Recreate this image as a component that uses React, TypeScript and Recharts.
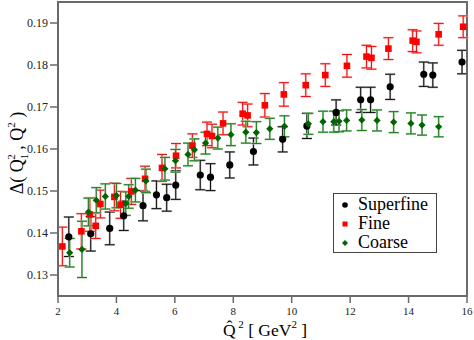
import React from 'react';
import {
  ScatterChart, Scatter, XAxis, YAxis, ErrorBar, ReferenceArea, Label,
} from 'recharts';

const xTicks = [2, 4, 6, 8, 10, 12, 14, 16];
const yTicks = [0.13, 0.14, 0.15, 0.16, 0.17, 0.18, 0.19];

const superfineX = [2.37, 3.12, 3.77, 4.25, 4.91, 5.37, 5.72, 6.03, 6.87, 7.22, 7.88, 8.69, 9.69, 10.52, 11.52, 12.36, 12.70, 13.37, 14.52, 14.83, 15.83];
const superfineY = [0.1391, 0.1398, 0.1411, 0.1441, 0.1465, 0.1491, 0.1484, 0.1514, 0.1538, 0.1533, 0.1562, 0.1594, 0.1623, 0.1655, 0.1687, 0.1717, 0.1717, 0.1748, 0.1778, 0.1776, 0.1807];
const superfineErr = [0.0047, 0.0041, 0.0039, 0.0035, 0.0036, 0.0033, 0.0032, 0.0034, 0.0035, 0.0032, 0.0031, 0.0032, 0.0030, 0.0030, 0.0030, 0.0030, 0.0030, 0.0030, 0.0029, 0.0029, 0.0028];

const fineX = [2.15, 2.80, 3.09, 3.29, 3.45, 3.93, 4.14, 4.51, 4.98, 5.56, 6.04, 6.60, 7.10, 7.27, 7.65, 8.32, 8.49, 9.08, 9.73, 10.48, 11.15, 11.89, 12.56, 12.73, 13.31, 14.14, 14.27, 15.03, 15.87];
const fineY = [0.1368, 0.1404, 0.1444, 0.1417, 0.1469, 0.1486, 0.1467, 0.1499, 0.1529, 0.1555, 0.1584, 0.1608, 0.1636, 0.1631, 0.1661, 0.1684, 0.1680, 0.1704, 0.1730, 0.1752, 0.1776, 0.1798, 0.1820, 0.1817, 0.1839, 0.1858, 0.1855, 0.1873, 0.1891];
const fineErr = [0.0046, 0.0042, 0.0040, 0.0030, 0.0033, 0.0033, 0.0032, 0.0031, 0.0030, 0.0032, 0.0029, 0.0028, 0.0028, 0.0028, 0.0027, 0.0027, 0.0027, 0.0028, 0.0028, 0.0027, 0.0027, 0.0027, 0.0027, 0.0027, 0.0026, 0.0026, 0.0026, 0.0026, 0.0026];

const coarseX = [2.40, 2.82, 3.04, 3.31, 3.62, 4.00, 4.32, 4.42, 4.65, 5.01, 5.66, 6.02, 6.45, 6.67, 7.05, 7.47, 7.92, 8.43, 8.79, 9.25, 9.75, 10.57, 11.07, 11.44, 11.62, 11.88, 12.40, 12.92, 13.49, 14.08, 14.46, 15.03];
const coarseY = [0.1353, 0.1361, 0.1450, 0.1478, 0.1487, 0.1489, 0.1470, 0.1487, 0.1502, 0.1524, 0.1553, 0.1572, 0.1587, 0.1598, 0.1614, 0.1626, 0.1634, 0.1640, 0.1639, 0.1648, 0.1654, 0.1660, 0.1665, 0.1665, 0.1666, 0.1668, 0.1669, 0.1668, 0.1664, 0.1661, 0.1657, 0.1653];
const coarseErr = [0.0034, 0.0067, 0.0033, 0.0030, 0.0030, 0.0029, 0.0028, 0.0028, 0.0028, 0.0028, 0.0027, 0.0027, 0.0027, 0.0026, 0.0026, 0.0026, 0.0026, 0.0026, 0.0026, 0.0025, 0.0025, 0.0025, 0.0025, 0.0025, 0.0025, 0.0025, 0.0025, 0.0025, 0.0025, 0.0025, 0.0024, 0.0024];

const build = (xs: number[], ys: number[], es: number[]) =>
  xs.map((x, i) => ({ x, y: ys[i], err: es[i] }));

const superfineData = build(superfineX, superfineY, superfineErr);
const fineData = build(fineX, fineY, fineErr);
const coarseData = build(coarseX, coarseY, coarseErr);

const SERIF = 'Liberation Serif, Times New Roman, DejaVu Serif, serif';
const AXIS = '#6a6a6a';

const CircleShape = (p: any) => <circle cx={p.cx} cy={p.cy} r={3.6} fill="#000" />;
const SquareShape = (p: any) => <rect x={p.cx - 3.3} y={p.cy - 3.3} width={6.6} height={6.6} fill="#ff0000" />;
const DiamondShape = (p: any) => (
  <path d={`M${p.cx},${p.cy - 3.6}L${p.cx + 3.6},${p.cy}L${p.cx},${p.cy + 3.6}L${p.cx - 3.6},${p.cy}Z`} fill="#006400" />
);

const legendItems = [
  { name: 'Superfine', kind: 'circle', color: '#000' },
  { name: 'Fine', kind: 'square', color: '#ff0000' },
  { name: 'Coarse', kind: 'diamond', color: '#006400' },
];

const LegendBox = () => (
  <div style={{ position: 'absolute', left: 333, top: 193, border: `1px solid #444`, background: '#fff', padding: '1px 0 0 0', boxSizing: 'border-box', width: 104, height: 60, fontFamily: SERIF, fontSize: 18 }}>
    {legendItems.map((it) => (
      <div key={it.name} style={{ display: 'flex', alignItems: 'center', height: 19, lineHeight: '19px' }}>
        <svg width={24} height={19} style={{ flex: 'none' }}>
          {it.kind === 'circle' && <circle cx={11} cy={10} r={2.8} fill={it.color} />}
          {it.kind === 'square' && <rect x={8.5} y={7.5} width={5} height={5} fill={it.color} />}
          {it.kind === 'diamond' && <path d="M11,7L14,10L11,13L8,10Z" fill={it.color} />}
        </svg>
        <span style={{ color: '#000' }}>{it.name}</span>
      </div>
    ))}
  </div>
);

const YLabel = () => (
  <text x={23} y={153} transform="rotate(-90, 23, 153)" textAnchor="middle" fontFamily={SERIF} fontSize={18} fill="#000">
    <tspan>Δ( Q</tspan>
    <tspan dy={5} fontSize={11}>1</tspan>
    <tspan dx={-6} dy={-13} fontSize={11}>2</tspan>
    <tspan dy={8} fontSize={18}>{' , Q'}</tspan>
    <tspan dy={-8} fontSize={11}>2</tspan>
    <tspan dy={8} fontSize={18}>{' )'}</tspan>
  </text>
);

const XLabel = () => (
  <text x={265} y={336} textAnchor="middle" fontFamily={SERIF} fontSize={17.5} fill="#000">
    <tspan>{'Q\u0302'}</tspan>
    <tspan dy={-8} fontSize={11}>{' 2'}</tspan>
    <tspan dy={8} fontSize={17.5}>{' [ GeV'}</tspan>
    <tspan dy={-8} fontSize={11}>2</tspan>
    <tspan dy={8} fontSize={17.5}>{' ]'}</tspan>
  </text>
);

export default function App() {
  const xTickStyle = { fontFamily: SERIF, fontSize: 11, fill: '#222' };
  const yTickStyle = { fontFamily: SERIF, fontSize: 12, fill: '#222' };
  return (
    <div style={{ position: 'absolute', left: 0, top: 0, width: 474, height: 340, background: '#fff' }}>
      <ScatterChart width={474} height={340} margin={{ top: 2, right: 7, bottom: 0, left: 0 }}>
        <XAxis
          dataKey="x" type="number" domain={[2, 16]} ticks={xTicks} height={44}
          tick={xTickStyle} tickSize={7} tickMargin={4}
          stroke={AXIS} axisLine={{ stroke: AXIS, strokeWidth: 2 }} tickLine={{ stroke: AXIS, strokeWidth: 1.5 }}
          allowDataOverflow
        >
          <Label content={XLabel} />
        </XAxis>
        <YAxis
          dataKey="y" type="number" domain={[0.125, 0.195]} ticks={yTicks} width={58}
          tick={yTickStyle} tickSize={8} tickMargin={2}
          tickFormatter={(v: number) => v.toFixed(2)}
          stroke={AXIS} axisLine={{ stroke: AXIS, strokeWidth: 2 }} tickLine={{ stroke: AXIS, strokeWidth: 1.5 }}
          allowDataOverflow
        >
          <Label content={YLabel} />
        </YAxis>
        <ReferenceArea x1={2} x2={16} y1={0.125} y2={0.195} fill="none" stroke={AXIS} strokeWidth={2} ifOverflow="visible" />
        <Scatter name="Superfine" data={superfineData} shape={CircleShape} isAnimationActive={false}>
          <ErrorBar dataKey="err" direction="y" width={5} stroke="#b0b0b0" strokeWidth={2} />
          <ErrorBar dataKey="err" direction="y" width={5} stroke="#111" strokeWidth={1} />
        </Scatter>
        <Scatter name="Fine" data={fineData} shape={SquareShape} isAnimationActive={false}>
          <ErrorBar dataKey="err" direction="y" width={5} stroke="#ffb0b0" strokeWidth={2} />
          <ErrorBar dataKey="err" direction="y" width={5} stroke="#ee1010" strokeWidth={1} />
        </Scatter>
        <Scatter name="Coarse" data={coarseData} shape={DiamondShape} isAnimationActive={false}>
          <ErrorBar dataKey="err" direction="y" width={5} stroke="#a8cfa8" strokeWidth={2} />
          <ErrorBar dataKey="err" direction="y" width={5} stroke="#1a7a1a" strokeWidth={1} />
        </Scatter>
      </ScatterChart>
      <LegendBox />
    </div>
  );
}
